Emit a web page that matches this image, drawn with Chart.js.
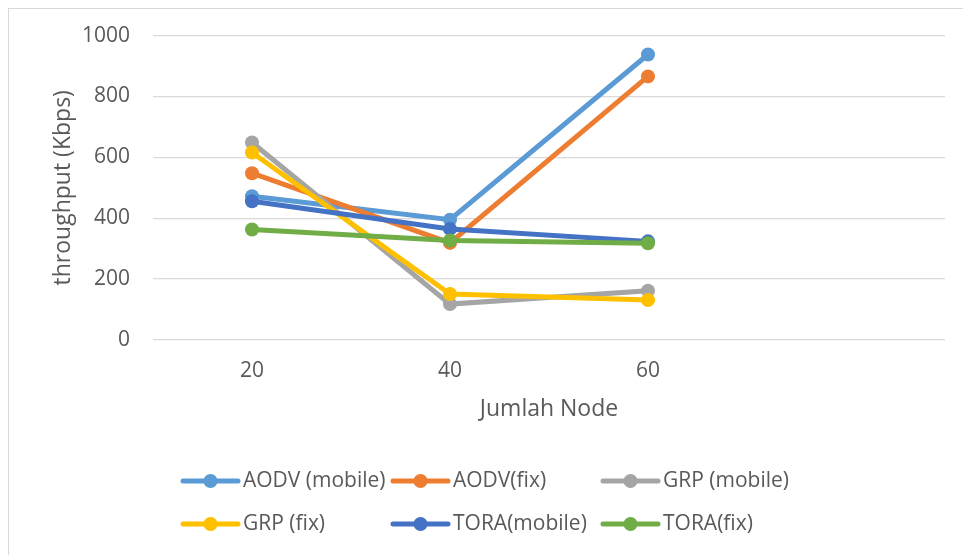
<!DOCTYPE html>
<html>
<head>
<meta charset="utf-8">
<script src="https://cdn.jsdelivr.net/npm/chart.js@4/dist/chart.umd.min.js"></script>
<style>
  html, body { margin: 0; padding: 0; background: #fff; }
  #wrap { width: 963px; height: 555px; position: relative; }
</style>
</head>
<body>
<div id="wrap"><canvas id="c" width="963" height="555"></canvas></div>
<script>
// Node counts on the x axis (last slot left empty)
const categories = ['20', '40', '60', ''];

// Throughput in Kbps for each routing protocol / scenario
const aodvMobile = [472, 395, 938, null];
const aodvFix    = [548, 319, 866, null];
const grpMobile  = [649, 118, 162, null];
const grpFix     = [616, 151, 131, null];
const toraMobile = [456, 365, 324, null];
const toraFix    = [363, 327, 318, null];

const seriesNames = ['AODV (mobile)', 'AODV(fix)', 'GRP (mobile)', 'GRP (fix)', 'TORA(mobile)', 'TORA(fix)'];
const seriesValues = [aodvMobile, aodvFix, grpMobile, grpFix, toraMobile, toraFix];
const seriesColors = ['#5B9BD5', '#ED7D31', '#A5A5A5', '#FFC000', '#4472C4', '#70AD47'];

const yTicks = [0, 200, 400, 600, 800, 1000];

const FONT = "'Open Sans', 'DejaVu Sans', sans-serif";
const TEXT = '#595959';

const datasets = seriesNames.map((name, i) => ({
  label: name,
  data: seriesValues[i],
  borderColor: seriesColors[i],
  backgroundColor: seriesColors[i],
  pointBackgroundColor: seriesColors[i],
  pointBorderColor: seriesColors[i],
  borderWidth: 5,
  pointRadius: 7,
  pointBorderWidth: 0,
  pointHoverRadius: 7,
  tension: 0,
  spanGaps: false,
  // later series are painted over earlier ones
  order: seriesNames.length - i
}));

// Outer frame around the chart
const framePlugin = {
  id: 'frame',
  beforeDraw(chart) {
    const ctx = chart.ctx;
    ctx.save();
    ctx.strokeStyle = '#d9d9d9';
    ctx.lineWidth = 1;
    ctx.strokeRect(8.5, 8.5, chart.width + 20, chart.height + 20);
    ctx.restore();
  }
};

// Legend laid out in aligned columns, two rows of three
const gridLegend = {
  id: 'gridLegend',
  afterDraw(chart) {
    const ctx = chart.ctx;
    const xs = chart.scales.x;
    const startX = 183, colW = 210, lineLen = 55;
    const rowY = [xs.bottom + 58, xs.bottom + 101];
    ctx.save();
    ctx.font = "21px " + FONT;
    ctx.textBaseline = 'middle';
    ctx.textAlign = 'left';
    chart.data.datasets.forEach((ds, i) => {
      const col = i % 3, row = Math.floor(i / 3);
      const x = startX + col * colW;
      const y = rowY[row];
      ctx.strokeStyle = ds.borderColor;
      ctx.lineWidth = 5;
      ctx.lineCap = 'round';
      ctx.beginPath();
      ctx.moveTo(x, y);
      ctx.lineTo(x + lineLen, y);
      ctx.stroke();
      ctx.fillStyle = ds.borderColor;
      ctx.beginPath();
      ctx.arc(x + lineLen / 2, y, 7, 0, Math.PI * 2);
      ctx.fill();
      ctx.fillStyle = TEXT;
      ctx.fillText(ds.label, x + lineLen + 5, y);
    });
    ctx.restore();
  }
};

new Chart(document.getElementById('c'), {
  type: 'line',
  data: { labels: categories, datasets },
  plugins: [framePlugin, gridLegend],
  options: {
    responsive: false,
    animation: false,
    events: [],
    layout: { padding: { left: 50, right: 18, top: 30, bottom: 132 } },
    plugins: {
      legend: { display: false },
      tooltip: { enabled: false }
    },
    scales: {
      x: {
        type: 'category',
        offset: true,
        grid: { display: false },
        border: { display: false },
        ticks: { color: TEXT, font: { family: FONT, size: 21 }, padding: 10, maxRotation: 0, autoSkip: false },
        title: { display: true, text: 'Jumlah Node', color: TEXT, font: { family: FONT, size: 23 }, padding: 0 },
        afterFit(scale) { scale.height = 83; }
      },
      y: {
        min: 0,
        max: 1000,
        afterBuildTicks(scale) { scale.ticks = yTicks.map(v => ({ value: v })); },
        grid: { color: '#d9d9d9', lineWidth: 1.3, drawTicks: false },
        border: { display: false },
        ticks: {
          color: TEXT,
          font: { family: FONT, size: 21 },
          padding: 23,
          callback: v => String(v)
        },
        title: { display: true, text: 'throughput (Kbps)', color: TEXT, font: { family: FONT, size: 23 }, padding: 0 },
        afterFit(scale) { scale.width = 103; }
      }
    }
  }
});
</script>
</body>
</html>
